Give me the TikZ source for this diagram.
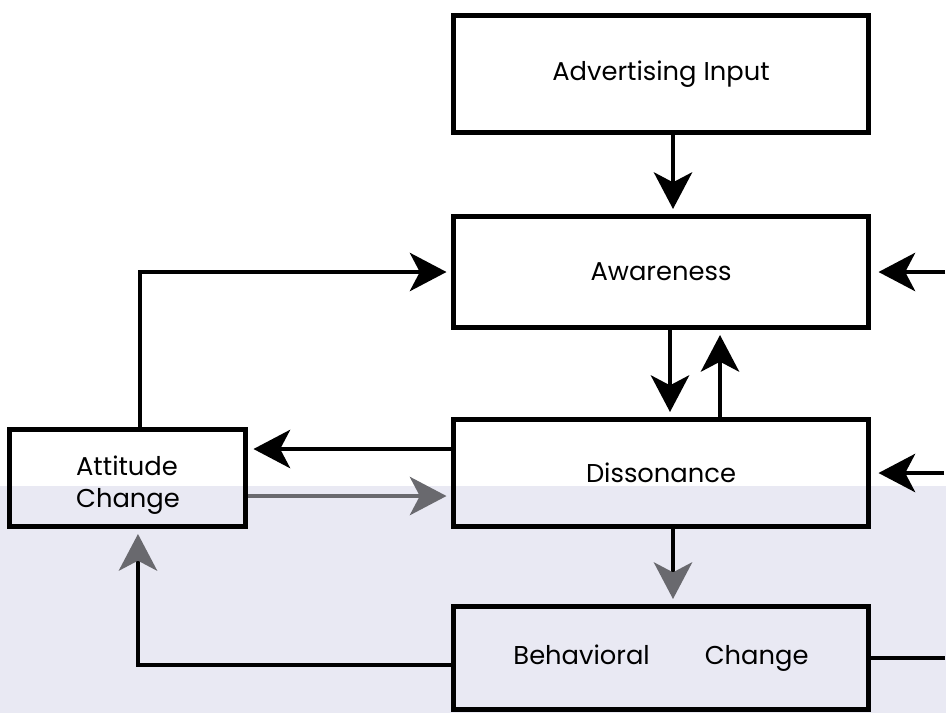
\documentclass[tikz,border=0pt]{standalone}
\usepackage{fontspec}
\setmainfont{Poppins}
\usetikzlibrary{arrows.meta,positioning}
\definecolor{bgtint}{RGB}{233,233,243}
\definecolor{tipgray}{RGB}{105,105,110}

\begin{document}
\begin{tikzpicture}
    [
        x=0.03cm, y=-0.03cm,
        ->,
        >={Stealth[length=1.1cm, width=1.15cm, inset=0.3cm]},
        shorten >=0.15cm,
        line width=0.12cm,
        box/.style={draw, -, line width=0.15cm, minimum width=12.42cm,
            font=\fontsize{22}{28}\selectfont},
        box far/.style={node distance=15.99cm},
        grey tip/.style={-{Stealth[length=1.1cm, width=1.15cm, inset=0.3cm, color=tipgray]}},
        feed in/.style={shorten >=0.24cm}
    ]
    \useasboundingbox (0,0) rectangle (946,713);
    \fill[bgtint] (0,486) rectangle (946,713);

    \node (advert) [box, minimum height=3.51cm] at (661,74) {Advertising Input};
    \node (aware)  [box, minimum height=3.33cm, below of=advert, node distance=5.94cm]
                   {Awareness};
    \node (diss)   [box, minimum height=3.21cm, below of=aware, node distance=6.03cm]
                   {Dissonance};
    \node (behav)  [box, minimum height=3.09cm, below of=diss, node distance=5.55cm]
                   {Behavioral\hspace{1.65cm}Change};

    \node (attitude)
          [box, box far, left of=diss, yshift=-0.15cm, minimum width=7.08cm,
              minimum height=2.91cm, align=left, text height=2.0cm]
          {Attitude\\Change};

    % loose ends on the right
    \coordinate (aware feed) at ([xshift=8.52cm]aware.center);
    \coordinate (diss feed)  at ([xshift=8.49cm]diss.center);
    \coordinate (behav feed) at ([xshift=8.52cm]behav.center);

    \path
    ([xshift=0.36cm]advert.south) edge
        ([xshift=0.36cm]advert.south |- aware.north)
    ([xshift=0.27cm]aware.south) edge
        ([xshift=0.27cm]aware.south |- diss.north)
    ([xshift=1.77cm]diss.north) edge
        ([xshift=1.77cm]diss.north |- aware.south)
    ([xshift=0.36cm]diss.south) edge [grey tip]
        ([xshift=0.36cm]diss.south |- behav.north)
    ([yshift=0.72cm]diss.west) edge
        ([yshift=0.72cm]diss.west -| attitude.east)
    ([yshift=-0.69cm]diss.west -| attitude.east) edge [color=tipgray]
        ([yshift=-0.69cm]diss.west)
    (aware feed) edge [feed in] (aware)
    (diss feed)  edge [feed in] (diss)
    (behav feed) edge [-, shorten >=0pt] (behav)
    ;

    \draw ([xshift=0.36cm]attitude.north) |- (aware);
    \draw [grey tip] ([yshift=-0.21cm]behav.west) -| ([xshift=0.3cm]attitude.south);

\end{tikzpicture}
\end{document}
